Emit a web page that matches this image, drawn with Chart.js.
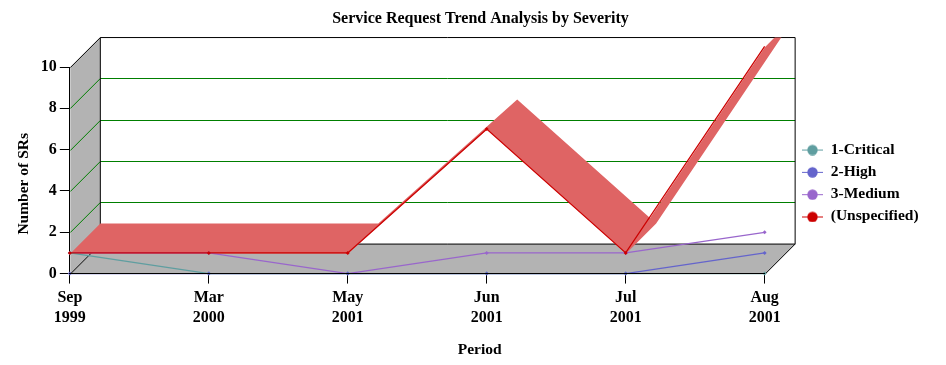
<!DOCTYPE html>
<html><head><meta charset="utf-8">
<style>html,body{margin:0;padding:0;background:#fff}#w{position:relative;width:946px;height:365px}</style>
<script src="https://cdn.jsdelivr.net/npm/chart.js@4/dist/chart.umd.min.js"></script>
</head><body><div id="w"><canvas id="c" width="946" height="365"></canvas></div>
<script>
const categories = [['Sep','1999'],['Mar','2000'],['May','2001'],['Jun','2001'],['Jul','2001'],['Aug','2001']];
const critical = [1,0,0,0,0,0];
const high = [0,0,0,0,0,1];
const medium = [1,1,0,1,1,2];
const unspecified = [1,1,1,7,1,11];
const yTicks = [0,2,4,6,8,10];
const FONT = '"Liberation Serif", "Times New Roman", serif';
const DEPTH = 30;
const WALL = '#b3b3b3', GRID = '#007f00', RIBBON = '#df6464';

function legendMark(color){
  const c = document.createElement('canvas'); c.width = 22; c.height = 12;
  const x = c.getContext('2d');
  x.strokeStyle = color; x.lineWidth = 1;
  x.beginPath(); x.moveTo(0,6.5); x.lineTo(21,6.5); x.stroke();
  x.fillStyle = color; x.beginPath(); x.arc(10.5,6.5,5.2,0,Math.PI*2); x.fill();
  return c;
}
function ds(label,data,color){
  return {label,data,borderColor:color,backgroundColor:color,borderWidth:1.25,pointRadius:2,pointHoverRadius:2,pointBorderWidth:0,pointStyle:'rectRot',tension:0,clip:false,fill:false};
}
function shiftTitle(scale,dx,dy){
  const base = scale.drawTitle;
  scale.drawTitle = function(){
    const s = [this.left,this.right,this.top,this.bottom];
    this.left+=dx; this.right+=dx; this.top+=dy; this.bottom+=dy;
    base.call(this);
    [this.left,this.right,this.top,this.bottom] = s;
  };
}
const scene = {
  id:'scene',
  afterLayout(chart){
    const l = chart.legend;
    const w = l.right-l.left, h = l.bottom-l.top;
    l.left = 796.2; l.right = l.left+w;
    l.top = 183-h/2; l.bottom = l.top+h;
    const t = chart.titleBlock;
    t.left = 0; t.right = 961;
    if(!chart.$shifted){
      chart.$shifted = true;
      shiftTitle(chart.scales.x,62.5,0);
      shiftTitle(chart.scales.y,0,13.5);
    }
  },
  beforeDatasetsDraw(chart){
    const {ctx,scales:{x,y}} = chart;
    const d = DEPTH;
    const L = x.getPixelForValue(0)+.5, R = x.getPixelForValue(categories.length-1)+.5;
    const B = y.getPixelForValue(0)+.5, T = y.getPixelForValue(yTicks[yTicks.length-1])+.5;
    ctx.save();
    ctx.lineWidth = 1;
    ctx.fillStyle = WALL;
    ctx.beginPath(); ctx.moveTo(L,B); ctx.lineTo(L+d,B-d); ctx.lineTo(L+d,T-d); ctx.lineTo(L,T); ctx.closePath(); ctx.fill();
    ctx.beginPath(); ctx.moveTo(L,B); ctx.lineTo(L+d,B-d); ctx.lineTo(R+d,B-d); ctx.lineTo(R,B); ctx.closePath(); ctx.fill();
    ctx.strokeStyle = GRID;
    yTicks.slice(1,-1).forEach(v=>{
      const p = Math.round(y.getPixelForValue(v))+.5;
      ctx.beginPath(); ctx.moveTo(L,p); ctx.lineTo(L+d,p-d); ctx.lineTo(R+d,p-d); ctx.stroke();
    });
    ctx.strokeStyle = '#000';
    ctx.beginPath();
    ctx.moveTo(L,T); ctx.lineTo(L+d,T-d); ctx.lineTo(R+d,T-d); ctx.lineTo(R+d,B-d); ctx.lineTo(R,B);
    ctx.moveTo(L,B); ctx.lineTo(L+d,B-d); ctx.lineTo(R+d,B-d);
    ctx.moveTo(L+d,T-d); ctx.lineTo(L+d,B-d);
    ctx.stroke();
    ctx.beginPath(); ctx.rect(0,T-d,chart.width,chart.height); ctx.clip();
    // one path with matching winding, so the segments join without seams
    ctx.fillStyle = RIBBON;
    ctx.beginPath();
    for(let i=0;i<unspecified.length-1;i++){
      const x0=x.getPixelForValue(i)+.5,y0=y.getPixelForValue(unspecified[i])+.5,
            x1=x.getPixelForValue(i+1)+.5,y1=y.getPixelForValue(unspecified[i+1])+.5;
      const pts=[[x0,y0],[x1,y1],[x1+d,y1-d],[x0+d,y0-d]];
      if((x1-x0)+(y1-y0)<0) pts.reverse();
      ctx.moveTo(pts[0][0],pts[0][1]);
      for(let j=1;j<4;j++) ctx.lineTo(pts[j][0],pts[j][1]);
      ctx.closePath();
    }
    ctx.fill();
    ctx.restore();
  }
};
new Chart(document.getElementById('c'),{
  type:'line',
  plugins:[scene],
  data:{labels:categories,datasets:[
    ds('(Unspecified)',unspecified,'#cc0000'),
    ds('2-High',high,'#6464cc'),
    ds('1-Critical',critical,'#5f9ea0'),
    ds('3-Medium',medium,'#9966cc')
  ]},
  options:{
    responsive:false,animation:false,
    layout:{padding:{left:15,right:49,top:0,bottom:6}},
    plugins:{
      tooltip:{enabled:false},
      title:{display:true,text:'Service Request Trend Analysis by Severity',color:'#000',
        font:{family:FONT,size:16,weight:'bold',lineHeight:1.15},padding:{top:9.5,bottom:39.15}},
      legend:{position:'right',
        labels:{color:'#000',font:{family:FONT,size:15.5,weight:'bold',lineHeight:1.15},padding:6.8,
          usePointStyle:true,pointStyleWidth:20,
          generateLabels(chart){
            const order=['1-Critical','2-High','3-Medium','(Unspecified)'];
            return order.map(n=>{
              const i=chart.data.datasets.findIndex(d=>d.label===n);
              const s=chart.data.datasets[i];
              return {text:n,datasetIndex:i,fontColor:'#000',pointStyle:legendMark(s.borderColor),lineWidth:0,strokeStyle:'transparent',fillStyle:s.borderColor};
            });
          }}}
    },
    scales:{
      x:{type:'category',offset:false,
        grid:{drawOnChartArea:false,drawTicks:true,tickLength:10,color:'#000'},
        border:{color:'#000',z:1},
        ticks:{color:'#000',maxRotation:0,autoSkip:false,padding:4,font:{family:FONT,size:16,weight:'bold',lineHeight:1.25}},
        title:{display:true,text:'Period',color:'#000',font:{family:FONT,size:15.5,weight:'bold',lineHeight:1.15},padding:{top:9.6,bottom:0}}},
      y:{min:0,max:10,
        afterBuildTicks(a){a.ticks=yTicks.map(v=>({value:v}));},
        grid:{drawOnChartArea:false,drawTicks:true,tickLength:10,color:'#000'},
        border:{color:'#000'},
        ticks:{color:'#000',padding:3,font:{family:FONT,size:16,weight:'bold'}},
        title:{display:true,text:'Number of SRs',color:'#000',font:{family:FONT,size:15.5,weight:'bold',lineHeight:1.15},padding:{top:0,bottom:5}}}
    }
  }
});
</script></body></html>
